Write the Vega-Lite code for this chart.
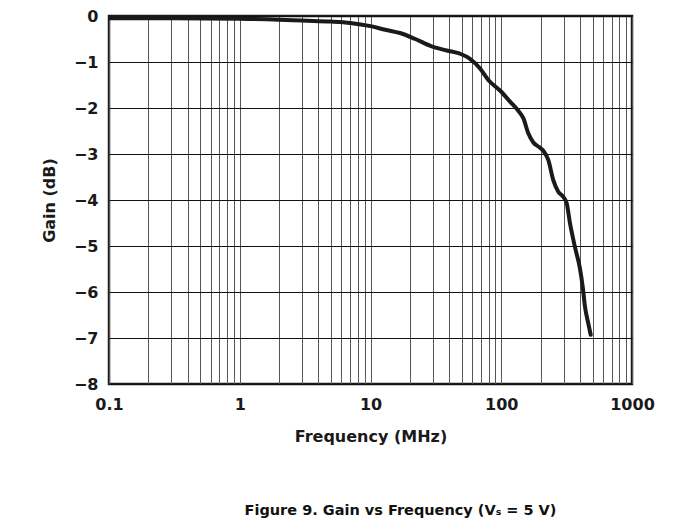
{
  "$schema": "https://vega.github.io/schema/vega-lite/v6.json",
  "width": 523,
  "height": 368,
  "autosize": {"type": "none"},
  "padding": {"left": 109, "top": 16, "right": 41, "bottom": 139},
  "background": "white",
  "title": {
    "text": "Figure 9. Gain vs Frequency (Vₛ = 5 V)",
    "orient": "bottom",
    "anchor": "middle",
    "baseline": "top",
    "offset": 60,
    "dx": 30,
    "font": "DejaVu Sans",
    "fontSize": 14.5,
    "fontWeight": "bold",
    "color": "#111"
  },
  "config": {
    "view": {"stroke": "#1a1a1a", "strokeWidth": 2.5},
    "axis": {
      "labelFont": "DejaVu Sans",
      "labelFontSize": 16,
      "labelFontWeight": "bold",
      "labelColor": "#1a1a1a",
      "titleFont": "DejaVu Sans",
      "titleFontSize": 16,
      "titleFontWeight": "bold",
      "titleColor": "#1a1a1a",
      "ticks": false,
      "domain": false
    }
  },
  "data": {
    "values": [
      {"f": 0.1, "g": -0.05},
      {"f": 0.3, "g": -0.05},
      {"f": 1, "g": -0.06},
      {"f": 2, "g": -0.08},
      {"f": 3, "g": -0.1},
      {"f": 5, "g": -0.12},
      {"f": 7, "g": -0.15},
      {"f": 10, "g": -0.22},
      {"f": 13, "g": -0.3},
      {"f": 16.8, "g": -0.37},
      {"f": 22, "g": -0.5},
      {"f": 29.4, "g": -0.66},
      {"f": 38.3, "g": -0.75},
      {"f": 48.4, "g": -0.82},
      {"f": 57.7, "g": -0.93},
      {"f": 68.8, "g": -1.14},
      {"f": 79.6, "g": -1.39},
      {"f": 97.8, "g": -1.62},
      {"f": 116.7, "g": -1.86},
      {"f": 135, "g": -2.06},
      {"f": 147.5, "g": -2.22},
      {"f": 161, "g": -2.55},
      {"f": 176, "g": -2.75},
      {"f": 195, "g": -2.85},
      {"f": 209.7, "g": -2.93},
      {"f": 229, "g": -3.13},
      {"f": 250, "g": -3.57},
      {"f": 273, "g": -3.82},
      {"f": 298, "g": -3.93},
      {"f": 316.7, "g": -4.07},
      {"f": 335.7, "g": -4.51},
      {"f": 366, "g": -5.02},
      {"f": 400, "g": -5.49},
      {"f": 420, "g": -5.89},
      {"f": 437, "g": -6.32},
      {"f": 463, "g": -6.68},
      {"f": 483, "g": -6.93}
    ]
  },
  "mark": {"type": "line", "color": "#1a1a1a", "strokeWidth": 4, "interpolate": "monotone", "strokeCap": "round", "clip": true},
  "encoding": {
    "x": {
      "field": "f",
      "type": "quantitative",
      "scale": {"type": "log", "domain": [0.1, 1000], "nice": false},
      "axis": {
        "title": "Frequency (MHz)",
        "values": [0.1,0.2,0.3,0.4,0.5,0.6,0.7,0.8,0.9,1,2,3,4,5,6,7,8,9,10,20,30,40,50,60,70,80,90,100,200,300,400,500,600,700,800,900,1000],
        "labelExpr": "indexof([0.1,1,10,100,1000], datum.value) >= 0 ? format(datum.value, '~g') : ''",
        "labelPadding": 12,
        "titlePadding": 16,
        "labelFlush": false,
        "labelOverlap": false,
        "grid": true,
        "gridColor": "#555",
        "gridWidth": 1
      }
    },
    "y": {
      "field": "g",
      "type": "quantitative",
      "scale": {"domain": [-8, 0], "nice": false, "zero": false},
      "axis": {
        "title": "Gain (dB)",
        "values": [-8,-7,-6,-5,-4,-3,-2,-1,0],
        "labelExpr": "replace(format(datum.value, 'd'), /[-–]/, '−')",
        "labelPadding": 11,
        "titlePadding": 16,
        "grid": true,
        "gridColor": "#111",
        "gridWidth": 1
      }
    }
  }
}
